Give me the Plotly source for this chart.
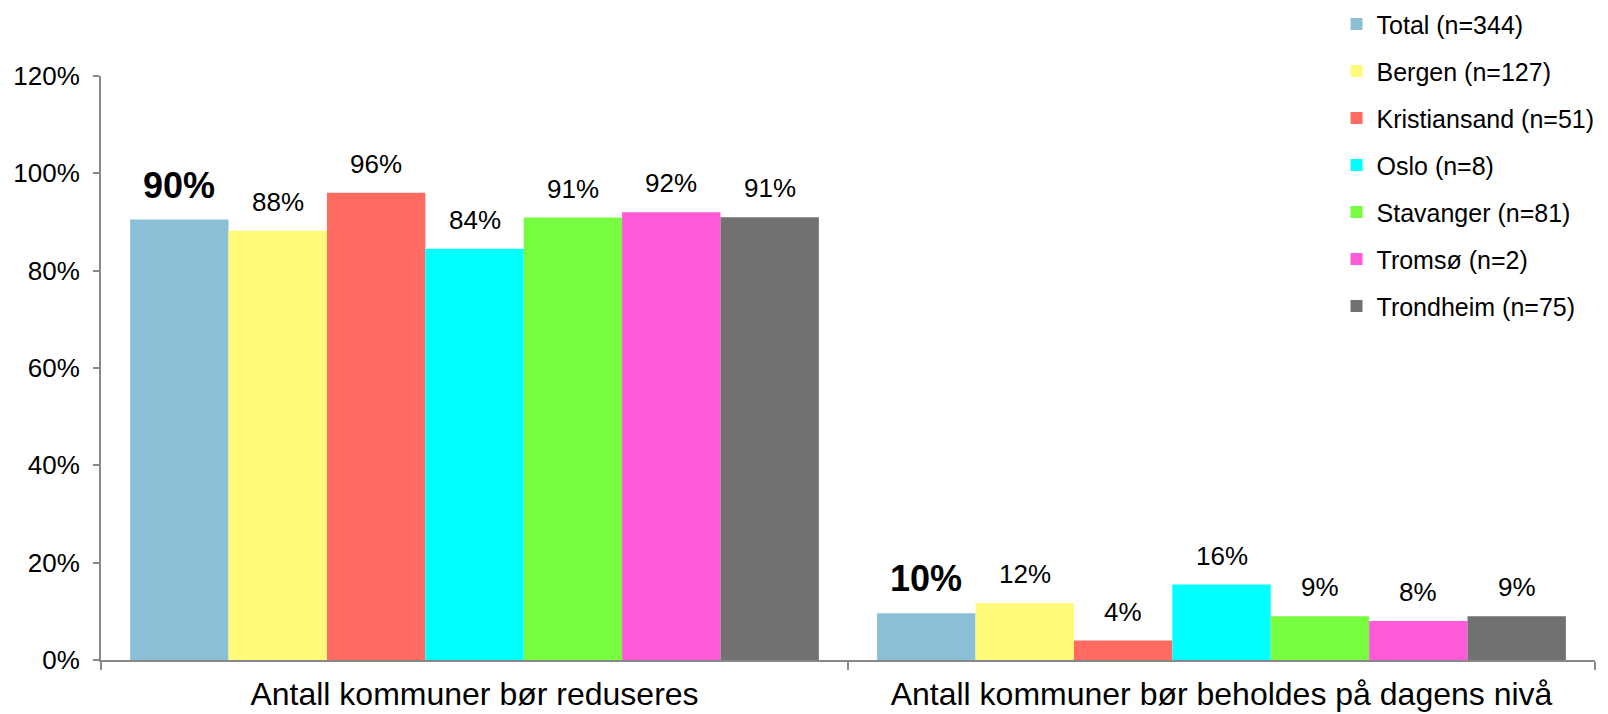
import plotly.graph_objects as go

categories = ["Antall kommuner bør reduseres", "Antall kommuner bør beholdes på dagens nivå"]
series_names = ["Total (n=344)", "Bergen (n=127)", "Kristiansand (n=51)", "Oslo (n=8)",
                "Stavanger (n=81)", "Tromsø (n=2)", "Trondheim (n=75)"]
total = [90.5, 9.6]
bergen = [88.2, 11.7]
kristiansand = [96.0, 4.0]
oslo = [84.5, 15.5]
stavanger = [90.9, 9.0]
tromso = [92.0, 8.0]
trondheim = [91.0, 9.0]
series_values = [total, bergen, kristiansand, oslo, stavanger, tromso, trondheim]
colors = ["#8BBFD5", "#FFFA7A", "#FF6A61", "#00FFFF", "#77FC40", "#FF5AD8", "#717171"]
y_ticks = [0, 20, 40, 60, 80, 100, 120]
y_tick_labels = [f"{t}%" for t in y_ticks]

FONT = "Liberation Sans, Arial, Helvetica, sans-serif"
BARGAP = 0.078

fig = go.Figure()
for i, (name, vals) in enumerate(zip(series_names, series_values)):
    fig.add_trace(go.Bar(
        x=categories, y=vals, name=name, marker=dict(color=colors[i], line=dict(width=0)),
        legendgroup=f"g{i}", hoverinfo="skip",
    ))

# value labels above bars
n = len(series_names)
w = (1 - BARGAP) / n
annotations = []
for j, vals in enumerate(series_values):
    for ci, v in enumerate(vals):
        xc = ci - (1 - BARGAP) / 2 + (j + 0.5) * w
        bold = (j == 0)
        annotations.append(dict(
            x=xc, y=v, xref="x", yref="y", text=f"<b>{round(v)}%</b>" if bold else f"{round(v)}%",
            showarrow=False, yanchor="bottom", yshift=12,
            font=dict(family=FONT, size=36 if bold else 26, color="#000"),
        ))

fig.update_layout(
    width=1600, height=706,
    barmode="group", bargap=BARGAP, bargroupgap=0,
    paper_bgcolor="white", plot_bgcolor="white",
    margin=dict(l=93, r=13, t=68, b=54, autoexpand=False),
    font=dict(family=FONT, color="#000"),
    showlegend=True,
    legend=dict(
        x=0.827, xanchor="left", y=1.128, yanchor="top",
        font=dict(family=FONT, size=25, color="#000"),
        tracegroupgap=11.5, bgcolor="rgba(0,0,0,0)", itemwidth=30,
    ),
    annotations=annotations,
)
fig.update_xaxes(
    showline=True, linecolor="#888888", linewidth=2,
    ticks="outside", tickson="boundaries", ticklen=8, tickcolor="#888888", tickwidth=2,
    tickfont=dict(family=FONT, size=32, color="#000"), ticklabelstandoff=5,
    showgrid=False, zeroline=False, automargin=False,
)
fig.update_yaxes(
    range=[0, 120], tickvals=y_ticks, ticktext=y_tick_labels,
    showline=True, linecolor="#888888", linewidth=2,
    ticks="outside", ticklen=6, tickcolor="#888888", tickwidth=2,
    tickfont=dict(family=FONT, size=26, color="#000"), ticklabelstandoff=8,
    showgrid=False, zeroline=False, automargin=False,
)

fig.write_html("out.html")
